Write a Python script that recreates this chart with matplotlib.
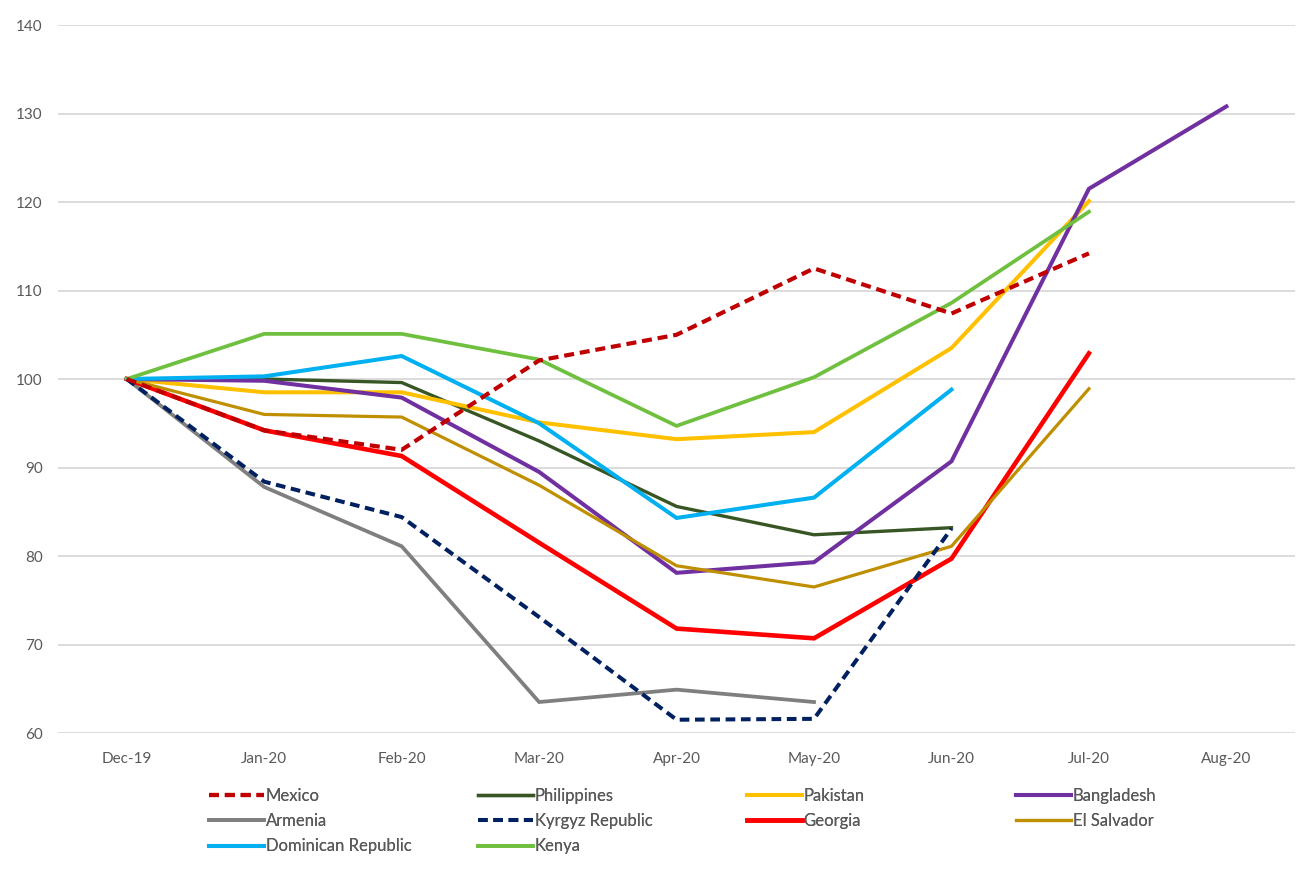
import numpy as np
import matplotlib
matplotlib.use("Agg")
import matplotlib.pyplot as plt

plt.rcParams['font.family'] = ['Lato', 'DejaVu Sans']

months = ["Dec-19", "Jan-20", "Feb-20", "Mar-20", "Apr-20", "May-20", "Jun-20", "Jul-20", "Aug-20"]
nan = np.nan
mexico      = [100, 94.2, 92.0, 102.1, 105.0, 112.5, 107.4, 114.2, nan]
philippines = [100, 100.0, 99.6, 93.0, 85.6, 82.4, 83.2, nan, nan]
pakistan    = [100, 98.5, 98.5, 95.1, 93.2, 94.0, 103.5, 120.1, nan]
bangladesh  = [100, 99.8, 97.9, 89.5, 78.1, 79.3, 90.7, 121.5, 130.8]
armenia     = [100, 87.8, 81.1, 63.5, 64.9, 63.5, nan, nan, nan]
kyrgyz      = [100, 88.4, 84.4, 73.1, 61.5, 61.6, 83.1, nan, nan]
georgia     = [100, 94.2, 91.3, 81.5, 71.8, 70.7, 79.7, 102.9, nan]
el_salvador = [100, 96.0, 95.7, 88.0, 78.9, 76.5, 81.1, 98.9, nan]
dominican   = [100, 100.3, 102.6, 95.0, 84.3, 86.6, 98.8, nan, nan]
kenya       = [100, 105.1, 105.1, 102.2, 94.7, 100.2, 108.6, 118.9, nan]

series = [
    ("Mexico", mexico, "#C00000", 3.0, (0, (2.4, 1.4))),
    ("Philippines", philippines, "#375623", 2.4, "-"),
    ("Pakistan", pakistan, "#FFC000", 2.9, "-"),
    ("Bangladesh", bangladesh, "#7030A0", 2.9, "-"),
    ("Armenia", armenia, "#7F7F7F", 2.7, "-"),
    ("Kyrgyz Republic", kyrgyz, "#002060", 2.9, (0, (2.4, 1.4))),
    ("Georgia", georgia, "#FF0000", 3.3, "-"),
    ("El Salvador", el_salvador, "#BF8F00", 2.3, "-"),
    ("Dominican Republic", dominican, "#00B0F0", 2.9, "-"),
    ("Kenya", kenya, "#70C040", 2.7, "-"),
]

fig = plt.figure(figsize=(12.99, 8.72), dpi=100)
ax = fig.add_axes([0.0447, 0.1594, 0.9523, 0.8119])

x = np.arange(len(months))
z = {"Mexico": 5, "Kyrgyz Republic": 4}
handles = {}
for name, vals, col, lw, ls in series:
    ln, = ax.plot(x, vals, color=col, lw=lw, ls=ls, label=name,
                  zorder=z.get(name, 3), solid_joinstyle='miter', dash_capstyle='butt')
    handles[name] = ln

ax.set_xlim(-0.5, len(months) - 0.5)
ax.set_ylim(60, 140)
ax.set_yticks(np.arange(60, 141, 10))
ax.set_xticks(x)
ax.set_xticklabels(months)
ax.grid(axis='y', color='#D9D9D9', lw=1.3)
ax.set_axisbelow(True)
for s in ax.spines.values():
    s.set_visible(False)
ax.tick_params(axis='both', length=0, labelsize=11, colors='#595959')
ax.tick_params(axis='y', pad=11)
ax.tick_params(axis='x', pad=14)

cols = [["Mexico", "Armenia", "Dominican Republic"],
        ["Philippines", "Kyrgyz Republic", "Kenya"],
        ["Pakistan", "Georgia"],
        ["Bangladesh", "El Salvador"]]
xs = [209, 478, 747, 1016]
for cx, names in zip(xs, cols):
    hs = [handles[n] for n in names]
    leg = fig.legend(hs, names, loc='upper left',
                     bbox_to_anchor=(cx / 1299, 1 - 788 / 872),
                     frameon=False, borderpad=0, borderaxespad=0,
                     handlelength=3.3, handletextpad=0.1,
                     labelspacing=0.55, fontsize=12, labelcolor='#595959')
    fig.add_artist(leg)

fig.savefig("out.png", dpi=100)
